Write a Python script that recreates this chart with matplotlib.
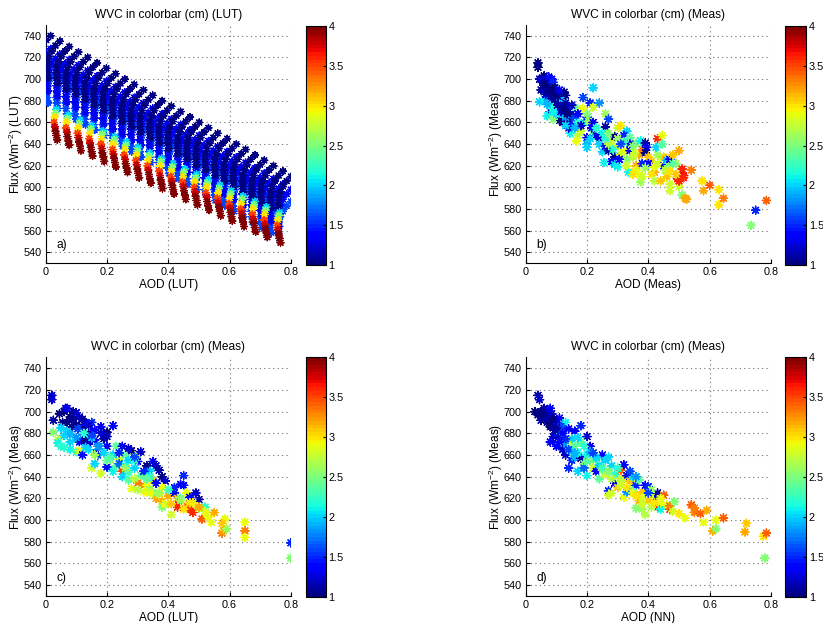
"""
plot.py - Flux vs AOD scatter, coloured by water vapour column (WVC)
a) LUT grid, b) measured, c) LUT-retrieved AOD, d) NN-retrieved AOD
"""

import matplotlib
matplotlib.use("Agg")
import matplotlib.pyplot as plt

plt.rcParams["font.family"] = ["Liberation Sans", "DejaVu Sans"]
plt.rcParams["mathtext.default"] = "regular"

# ── LUT nodes (panel a) ───────────────────────────────────────────────────────
# dry columns: top of each dark-blue arc
lut_aod = [0.016, 0.046, 0.077, 0.107, 0.137, 0.168, 0.198, 0.228, 0.258,
           0.289, 0.319, 0.349, 0.380, 0.410, 0.440, 0.471, 0.501, 0.531,
           0.561, 0.592, 0.622, 0.652, 0.683, 0.713, 0.743, 0.774, 0.800]
lut_top = [740, 735, 730, 725, 720, 715, 710, 705, 700,
           695, 690, 685, 680, 675, 670, 665, 660, 655,
           650, 645, 640, 635, 630, 625, 620, 615, 610]
arc_dx = [0, -0.014, -0.026, -0.035, -0.040, -0.042, -0.041, -0.038]
arc_dy = [0, -4, -9, -14, -19, -24, -29, -34]
dry_wvc = [1.6, 1.3, 1.0]        # drawn first to last, dark arcs on top
dry_shift = [-23, -12, 0]

# wet columns: top of each red arc
wet_aod = [0.027, 0.066, 0.104, 0.142, 0.180, 0.218, 0.256, 0.294, 0.332, 0.370,
           0.408, 0.446, 0.484, 0.522, 0.560, 0.598, 0.636, 0.674, 0.712, 0.755]
wet_top = [660, 655, 650, 645, 640, 635, 630, 625, 620, 615,
           610, 605, 600, 595, 590, 585, 580, 575, 570, 565]
wet_dx = [0.008, 0.005, 0.002, 0, 0.003, 0.005, 0.008, 0.011]
wet_dy = [12, 9, 5, 0, -4, -8, -12, -16]
wet_wvc = [2.0, 2.5, 3.0, 3.5, 3.8, 4.0, 4.0, 4.0]

# ── Measurements (panel b) ────────────────────────────────────────────────────
b_aod = [0.04, 0.04, 0.05, 0.06, 0.055, 0.065, 0.07, 0.06, 0.075, 0.085,
         0.09, 0.05, 0.045, 0.045, 0.06, 0.07, 0.08, 0.09, 0.10, 0.11,
         0.12, 0.13, 0.10, 0.09, 0.10, 0.08, 0.12, 0.11, 0.12, 0.07,
         0.09, 0.10, 0.08, 0.14, 0.15, 0.16, 0.14, 0.15, 0.16, 0.13,
         0.145, 0.17, 0.165, 0.18, 0.19, 0.20, 0.20, 0.187, 0.21, 0.185,
         0.22, 0.24, 0.22, 0.26, 0.27, 0.26, 0.20, 0.20, 0.20, 0.22,
         0.23, 0.24, 0.25, 0.24, 0.25, 0.26, 0.27, 0.28, 0.29, 0.29,
         0.28, 0.29, 0.255, 0.30, 0.31, 0.33, 0.32, 0.34, 0.36, 0.30,
         0.32, 0.34, 0.33, 0.31, 0.335, 0.36, 0.36, 0.37, 0.375, 0.38,
         0.38, 0.37, 0.38, 0.375, 0.39, 0.395, 0.39, 0.40, 0.41, 0.40,
         0.42, 0.41, 0.42, 0.43, 0.425, 0.445, 0.445, 0.44, 0.45, 0.45,
         0.46, 0.465, 0.47, 0.46, 0.44, 0.47, 0.47, 0.48, 0.49, 0.50,
         0.50, 0.51, 0.495, 0.50, 0.51, 0.515, 0.515, 0.52, 0.525, 0.54,
         0.575, 0.58, 0.60, 0.63, 0.63, 0.645, 0.75, 0.735, 0.785, 0.115,
         0.12, 0.13, 0.125, 0.105, 0.095, 0.065, 0.14, 0.17, 0.18, 0.205,
         0.215, 0.27, 0.305, 0.30, 0.35, 0.34, 0.355, 0.39, 0.42, 0.455,
         0.48, 0.32,
         0.06, 0.075, 0.085, 0.095, 0.105, 0.115, 0.125, 0.135, 0.15, 0.11,
         0.07, 0.09, 0.13, 0.16, 0.17, 0.22, 0.23, 0.21, 0.26, 0.27,
         0.30, 0.31, 0.35, 0.33, 0.35, 0.43, 0.43, 0.47, 0.49, 0.285]
b_flux = [715, 711, 700, 703, 697, 698, 693, 690, 702, 700,
          697, 690, 700, 679, 682, 683, 690, 688, 690, 686,
          684, 685, 680, 676, 672, 670, 676, 662, 660, 666,
          663, 668, 675, 672, 668, 674, 662, 658, 664, 665,
          650, 648, 643, 652, 660, 665, 668, 683, 678, 673,
          692, 678, 674, 668, 663, 656, 646, 640, 637, 652,
          648, 645, 650, 640, 633, 638, 634, 643, 647, 628,
          624, 621, 623, 655, 657, 652, 648, 646, 641, 638,
          633, 634, 626, 630, 614, 620, 616, 612, 605, 610,
          622, 630, 635, 643, 641, 637, 632, 628, 624, 622,
          614, 612, 606, 645, 637, 648, 640, 628, 620, 628,
          625, 620, 626, 610, 606, 603, 597, 630, 622, 634,
          601, 593, 608, 606, 617, 611, 609, 590, 589, 616,
          606, 597, 602, 598, 584, 590, 579, 565, 588, 681,
          668, 678, 688, 684, 692, 686, 655, 660, 657, 661,
          655, 640, 626, 619, 628, 640, 632, 618, 619, 616,
          622, 642,
          695, 688, 682, 684, 676, 670, 672, 668, 676, 690,
          677, 670, 657, 655, 668, 660, 655, 645, 645, 650,
          645, 640, 638, 620, 612, 622, 630, 615, 612, 635]
b_wvc = [1.0, 1.0, 1.0, 1.0, 1.1, 1.0, 1.0, 1.3, 1.3, 1.4,
         1.5, 1.1, 1.2, 2.0, 2.1, 1.8, 1.0, 1.0, 1.1, 1.0,
         1.0, 1.1, 1.0, 1.1, 1.0, 1.2, 1.2, 1.0, 1.0, 2.1,
         2.5, 2.0, 2.2, 1.3, 1.1, 2.4, 1.0, 1.5, 1.6, 1.8,
         2.1, 2.7, 2.9, 2.8, 2.0, 1.5, 2.5, 1.6, 1.5, 2.9,
         2.0, 1.8, 2.8, 2.6, 1.6, 1.1, 1.3, 1.9, 2.0, 2.4,
         1.3, 1.2, 2.1, 2.0, 2.0, 1.4, 1.1, 2.8, 1.0, 1.0,
         1.4, 2.0, 2.1, 2.8, 3.0, 2.0, 1.5, 2.4, 2.5, 2.8,
         2.9, 1.3, 2.5, 2.8, 2.1, 3.2, 2.9, 2.9, 2.6, 2.8,
         1.5, 3.2, 3.3, 2.1, 1.1, 1.3, 1.0, 3.1, 3.1, 1.4,
         3.2, 3.0, 2.7, 3.6, 2.0, 2.9, 2.4, 2.9, 1.3, 3.1,
         1.9, 2.5, 1.3, 3.1, 3.1, 2.8, 2.8, 3.1, 2.6, 3.2,
         2.8, 2.5, 3.6, 3.6, 3.6, 3.7, 3.6, 3.2, 3.2, 3.3,
         3.0, 3.2, 3.4, 3.0, 3.0, 3.3, 1.5, 2.5, 3.4, 2.0,
         2.0, 1.1, 1.0, 1.1, 1.0, 1.2, 1.3, 2.2, 1.2, 2.6,
         1.4, 2.7, 1.4, 2.1, 2.7, 1.4, 2.8, 2.6, 2.9, 2.7,
         2.4, 2.3,
         1.0, 1.0, 1.1, 1.0, 1.1, 1.2, 1.0, 1.0, 1.2, 1.3,
         1.9, 2.1, 2.0, 1.9, 1.4, 1.3, 2.2, 2.0, 2.2, 2.5,
         2.6, 1.6, 2.5, 2.8, 3.0, 2.8, 2.6, 3.0, 3.1, 2.2]

# ── Measured flux vs LUT-retrieved AOD (panel c) ──────────────────────────────
c_aod = [0.02, 0.02, 0.025, 0.045, 0.06, 0.065, 0.07, 0.055, 0.07, 0.085,
         0.10, 0.11, 0.10, 0.12, 0.13, 0.14, 0.15, 0.18, 0.22, 0.20,
         0.20, 0.12, 0.11, 0.13, 0.14, 0.16, 0.19, 0.20, 0.17, 0.165,
         0.025, 0.04, 0.04, 0.05, 0.06, 0.07, 0.08, 0.05, 0.08, 0.10,
         0.11, 0.12, 0.13, 0.14, 0.15, 0.16, 0.18, 0.20, 0.22, 0.23,
         0.25, 0.24, 0.22, 0.23, 0.25, 0.26, 0.28, 0.27, 0.30, 0.31,
         0.30, 0.29, 0.33, 0.35, 0.36, 0.37, 0.34, 0.31, 0.25, 0.27,
         0.28, 0.30, 0.32, 0.32, 0.35, 0.33, 0.36, 0.38, 0.39, 0.36,
         0.35, 0.38, 0.40, 0.38, 0.38, 0.39, 0.41, 0.42, 0.42, 0.43,
         0.43, 0.43, 0.44, 0.45, 0.45, 0.46, 0.46, 0.47, 0.47, 0.48,
         0.49, 0.50, 0.48, 0.52, 0.51, 0.52, 0.53, 0.55, 0.54, 0.575,
         0.58, 0.59, 0.585, 0.575, 0.65, 0.65, 0.65, 0.80, 0.80, 0.09,
         0.105, 0.125, 0.15, 0.175, 0.21, 0.24, 0.27, 0.29, 0.34, 0.37,
         0.40, 0.44, 0.47, 0.50, 0.33, 0.29, 0.26,
         0.08, 0.09, 0.12, 0.14, 0.16, 0.18, 0.15, 0.10, 0.08, 0.06,
         0.17, 0.19, 0.21, 0.24, 0.27, 0.29, 0.32, 0.34, 0.30, 0.34,
         0.37, 0.40, 0.41, 0.44, 0.45, 0.50, 0.33, 0.26, 0.20, 0.16]
c_flux = [715, 711, 692, 698, 700, 703, 703, 690, 690, 686,
          699, 695, 688, 686, 690, 680, 690, 686, 687, 681,
          677, 676, 672, 673, 670, 674, 675, 668, 660, 662,
          681, 674, 671, 685, 678, 682, 679, 668, 665, 663,
          664, 660, 667, 665, 648, 652, 643, 649, 645, 650,
          645, 656, 660, 668, 668, 660, 664, 655, 660, 663,
          654, 648, 650, 654, 650, 646, 645, 641, 640, 637,
          629, 634, 632, 626, 637, 632, 634, 640, 636, 620,
          625, 630, 622, 617, 612, 615, 605, 625, 630, 620,
          612, 615, 633, 641, 632, 625, 613, 621, 610, 607,
          625, 619, 616, 612, 601, 608, 603, 607, 598, 588,
          590, 592, 601, 597, 598, 590, 584, 579, 565, 693,
          684, 680, 676, 668, 656, 652, 644, 638, 628, 624,
          615, 620, 616, 611, 644, 655, 650,
          695, 700, 693, 687, 683, 680, 678, 676, 672, 667,
          668, 662, 658, 662, 666, 658, 645, 640, 628, 625,
          625, 628, 615, 618, 610, 612, 638, 648, 655, 660]
c_wvc = [1.2, 1.2, 1.1, 1.0, 1.0, 1.1, 1.3, 1.0, 1.0, 1.0,
         1.3, 1.2, 1.0, 1.0, 1.3, 1.0, 1.5, 1.3, 1.4, 1.0,
         1.2, 1.5, 1.3, 1.0, 1.2, 1.3, 1.1, 1.3, 1.6, 1.3,
         2.5, 2.7, 2.1, 2.0, 2.0, 2.0, 1.9, 2.2, 2.1, 2.3,
         2.8, 1.4, 2.0, 2.0, 2.8, 2.0, 2.8, 1.4, 2.1, 2.4,
         3.5, 2.8, 2.0, 2.4, 1.3, 2.4, 1.0, 2.0, 2.6, 1.2,
         1.4, 2.0, 1.0, 1.3, 1.2, 1.1, 2.0, 2.4, 2.0, 2.4,
         2.9, 3.3, 3.3, 2.9, 3.1, 2.9, 1.4, 1.0, 1.2, 3.2,
         2.4, 2.9, 3.2, 3.2, 2.5, 2.9, 2.8, 1.3, 1.5, 3.1,
         3.6, 3.6, 1.4, 1.5, 1.4, 2.9, 3.3, 1.4, 3.5, 3.6,
         1.2, 1.1, 2.9, 2.2, 3.4, 2.9, 2.9, 3.2, 2.9, 3.3,
         3.2, 2.6, 2.9, 3.1, 2.9, 3.3, 2.9, 1.5, 2.5, 1.1,
         1.6, 2.2, 2.0, 1.8, 2.6, 1.7, 2.3, 2.7, 2.6, 3.0,
         2.8, 2.4, 3.0, 2.7, 1.9, 2.2, 2.1,
         1.0, 1.1, 1.1, 1.2, 1.4, 1.2, 1.6, 1.8, 2.0, 2.2,
         1.8, 2.0, 2.3, 1.5, 1.2, 1.6, 1.5, 2.2, 2.7, 2.9,
         2.6, 2.3, 3.1, 2.6, 3.0, 3.2, 2.4, 2.6, 2.4, 2.6]

# ── Measured flux vs NN-retrieved AOD (panel d) ───────────────────────────────
d_aod = [0.04, 0.045, 0.03, 0.04, 0.05, 0.06, 0.07, 0.08, 0.085, 0.07,
         0.08, 0.09, 0.10, 0.11, 0.12, 0.10, 0.09, 0.11, 0.13, 0.14,
         0.16, 0.18, 0.20, 0.08, 0.10, 0.12, 0.13, 0.14, 0.15, 0.16,
         0.18, 0.15, 0.16, 0.14, 0.18, 0.17, 0.19, 0.20, 0.21, 0.22,
         0.20, 0.22, 0.23, 0.24, 0.24, 0.25, 0.26, 0.27, 0.28, 0.26,
         0.27, 0.28, 0.27, 0.29, 0.30, 0.31, 0.32, 0.32, 0.30, 0.32,
         0.33, 0.34, 0.34, 0.35, 0.36, 0.37, 0.38, 0.36, 0.37, 0.38,
         0.39, 0.39, 0.40, 0.38, 0.40, 0.42, 0.43, 0.43, 0.43, 0.44,
         0.45, 0.46, 0.47, 0.47, 0.485, 0.48, 0.50, 0.52, 0.54, 0.55,
         0.55, 0.57, 0.58, 0.59, 0.61, 0.62, 0.62, 0.645, 0.715, 0.72,
         0.775, 0.785, 0.78, 0.06, 0.095, 0.115, 0.125, 0.145, 0.17, 0.19,
         0.23, 0.25, 0.29, 0.31, 0.35, 0.41, 0.44, 0.33, 0.21, 0.105,
         0.05, 0.06, 0.07, 0.09, 0.10, 0.12, 0.13, 0.11, 0.14, 0.16,
         0.17, 0.19, 0.20, 0.23, 0.25, 0.27, 0.28, 0.31, 0.33, 0.35,
         0.36, 0.38, 0.41, 0.42, 0.44, 0.34, 0.36, 0.40, 0.30, 0.22]
d_flux = [715, 711, 700, 697, 692, 703, 700, 703, 698, 690,
          686, 688, 690, 694, 686, 680, 677, 678, 690, 684,
          682, 687, 677, 672, 668, 665, 660, 672, 675, 668,
          672, 655, 658, 648, 657, 645, 652, 660, 668, 655,
          641, 648, 645, 638, 651, 660, 655, 658, 650, 642,
          627, 625, 623, 634, 640, 646, 651, 638, 630, 621,
          641, 636, 628, 640, 632, 637, 626, 611, 618, 610,
          605, 632, 631, 620, 618, 622, 625, 619, 612, 610,
          623, 614, 610, 613, 617, 608, 606, 602, 614, 611,
          607, 606, 598, 609, 590, 600, 592, 602, 589, 597,
          585, 588, 565, 695, 683, 686, 671, 664, 662, 648,
          656, 646, 642, 636, 626, 628, 616, 626, 663, 676,
          700, 696, 694, 693, 685, 680, 675, 672, 665, 662,
          676, 668, 654, 658, 648, 645, 638, 632, 630, 625,
          622, 615, 612, 616, 620, 645, 640, 625, 648, 662]
d_wvc = [1.1, 1.2, 1.0, 1.0, 1.1, 1.1, 1.2, 1.3, 1.2, 1.0,
         1.0, 1.0, 1.2, 1.4, 1.1, 1.0, 1.2, 2.0, 2.1, 1.4,
         1.3, 1.5, 1.2, 1.3, 1.4, 1.2, 1.2, 2.8, 2.0, 2.4,
         2.4, 1.5, 1.9, 1.5, 1.1, 2.0, 2.5, 2.1, 1.3, 2.5,
         2.1, 2.8, 1.4, 2.4, 2.0, 1.4, 2.0, 2.0, 2.0, 2.8,
         1.5, 2.8, 2.8, 1.3, 2.8, 3.4, 1.4, 2.9, 3.1, 2.9,
         1.3, 3.1, 2.5, 2.0, 1.5, 2.4, 3.1, 2.5, 3.2, 2.6,
         2.7, 1.4, 1.5, 2.8, 3.1, 2.8, 1.1, 1.4, 3.6, 2.1,
         3.4, 2.8, 3.5, 3.3, 2.5, 2.8, 3.0, 2.9, 3.4, 3.3,
         3.3, 3.4, 2.9, 3.2, 3.2, 2.9, 2.5, 3.4, 3.2, 3.1,
         3.0, 3.4, 2.5, 1.0, 1.1, 1.6, 1.8, 2.2, 2.1, 1.7,
         2.3, 2.6, 2.2, 2.7, 2.2, 2.6, 2.9, 1.8, 1.9, 1.2,
         1.0, 1.0, 1.1, 1.0, 1.1, 1.3, 1.5, 1.4, 1.6, 1.9,
         2.0, 2.2, 2.4, 2.0, 2.3, 2.5, 2.7, 2.8, 3.0, 2.9,
         3.0, 2.8, 2.7, 3.0, 2.9, 1.6, 1.8, 1.6, 2.2, 1.6]

# ── Style ─────────────────────────────────────────────────────────────────────
CMAP   = plt.get_cmap("jet", 64)
STAR   = (8, 2, 0)          # 8-armed asterisk like MATLAB '*'
CB_TICKS = [1, 1.5, 2, 2.5, 3, 3.5, 4]
TXT    = 8.6
TICK   = 7.8


def lut_points():
    xs, ys, cs = [], [], []
    for wvc, shift in zip(dry_wvc, dry_shift):
        for a, t in zip(lut_aod, lut_top):
            for dx, dy in zip(arc_dx, arc_dy):
                xs.append(a + dx); ys.append(t + shift + dy); cs.append(wvc)
    for a, t in zip(wet_aod, wet_top):
        for dx, dy, w in zip(wet_dx, wet_dy, wet_wvc):
            xs.append(a + dx); ys.append(t + dy); cs.append(w)
    return xs, ys, cs


def panel(ax_rect, cb_rect, x, y, c, title, xlabel, ylabel, tag, size=34):
    ax = fig.add_axes(ax_rect)
    sc = ax.scatter(x, y, c=c, cmap=CMAP, vmin=1, vmax=4, marker=STAR,
                    s=size, linewidths=1.0, zorder=3)
    ax.set_xlim(0, 0.8); ax.set_ylim(530, 750)
    ax.set_xticks([0, 0.2, 0.4, 0.6, 0.8])
    ax.set_xticklabels(["0", "0.2", "0.4", "0.6", "0.8"])
    ax.set_yticks(range(540, 741, 20))
    ax.grid(True, linestyle=(0, (1, 3)), color="#707070", linewidth=0.8)
    ax.set_axisbelow(True)
    for side in ("top", "right"):
        ax.spines[side].set_visible(False)
    ax.tick_params(direction="in", labelsize=TICK, length=3, pad=3)
    ax.set_title(title, fontsize=TXT, pad=5)
    ax.set_xlabel(xlabel, fontsize=TXT, labelpad=1)
    ax.set_ylabel(ylabel, fontsize=TXT, labelpad=-1)
    ax.text(0.035, 547, tag, fontsize=TXT, va="center")

    cax = fig.add_axes(cb_rect)
    cb = fig.colorbar(sc, cax=cax, ticks=CB_TICKS)
    cb.ax.set_yticklabels(["1", "1.5", "2", "2.5", "3", "3.5", "4"])
    cb.ax.tick_params(labelsize=TICK, direction="in", length=2, pad=2)
    cb.outline.set_linewidth(0.8)


fig = plt.figure(figsize=(8.23, 6.23), dpi=100)
ylab_lut  = "Flux (Wm$^{-2}$) (LUT)"
ylab_meas = "Flux (Wm$^{-2}$) (Meas)"

la_x, la_y, la_c = lut_points()
panel([0.0555, 0.5774, 0.298, 0.3825], [0.3718, 0.5746, 0.0239, 0.3836],
      la_x, la_y, la_c, "WVC in colorbar (cm) (LUT)", "AOD (LUT)", ylab_lut, "a)",
      size=24)
panel([0.6388, 0.5774, 0.298, 0.3825], [0.9538, 0.5746, 0.0255, 0.3836],
      b_aod, b_flux, b_wvc, "WVC in colorbar (cm) (Meas)", "AOD (Meas)", ylab_meas, "b)")
panel([0.0555, 0.0433, 0.298, 0.3831], [0.3718, 0.0422, 0.0239, 0.3843],
      c_aod, c_flux, c_wvc, "WVC in colorbar (cm) (Meas)", "AOD (LUT)", ylab_meas, "c)")
panel([0.6388, 0.0433, 0.298, 0.3831], [0.9538, 0.0422, 0.0255, 0.3843],
      d_aod, d_flux, d_wvc, "WVC in colorbar (cm) (Meas)", "AOD (NN)", ylab_meas, "d)")

fig.savefig("out.png", dpi=100, facecolor="white")
